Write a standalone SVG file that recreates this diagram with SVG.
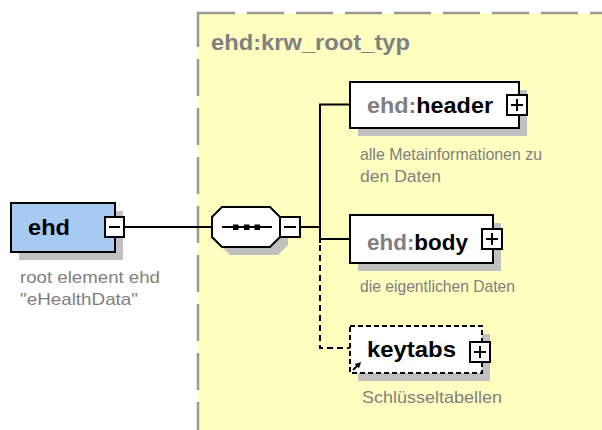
<svg xmlns="http://www.w3.org/2000/svg" width="602" height="430" viewBox="0 0 602 430">
<defs>
<style>
.t{font-family:"Liberation Sans",Arial,sans-serif;}
.b{font-weight:bold;font-size:22px;}
.d{font-size:17px;fill:#808080;}
.g{fill:#808080;}
.k{fill:#000;}
.box{fill:#fff;stroke:#000;stroke-width:2;}
.sh{fill:#c0c0c0;}
.ln{stroke:#000;stroke-width:2;fill:none;}
.dl{stroke:#000;stroke-width:2;fill:none;stroke-dasharray:6,4;}
</style>
<marker id="ah" viewBox="0 0 6 6" refX="3" refY="3" markerWidth="6" markerHeight="6" orient="auto" markerUnits="userSpaceOnUse">
<path d="M0,0 L6,3 L0,6 z" fill="#000"/>
</marker>
</defs>
<rect width="602" height="430" fill="#fff"/>
<g id="type">
<rect x="198" y="13" width="420" height="430" fill="#ffffc0" stroke="#999" stroke-width="2.5" stroke-dasharray="37,12"/>
<text class="t b g" x="211" y="50" textLength="199" lengthAdjust="spacingAndGlyphs">ehd:krw_root_typ</text>
</g>
<g id="connectors">
<line class="ln" x1="124" y1="227" x2="212" y2="227"/>
<line class="ln" x1="300" y1="227" x2="320" y2="227"/>
<polyline class="ln" points="350,104.5 320,104.5 320,243"/>
<line class="ln" x1="320" y1="239" x2="350" y2="239"/>
<polyline class="dl" points="320,245 320,348 350,348"/>
</g>
<g id="ehd">
<rect class="sh" x="19" y="211" width="104" height="49"/>
<rect x="11" y="203" width="104" height="49" fill="#a6caf0" stroke="#000" stroke-width="2"/>
<text class="t b k" x="28" y="235" textLength="42" lengthAdjust="spacingAndGlyphs">ehd</text>
<rect class="box" x="105" y="217" width="19" height="20"/>
<line class="ln" x1="109" y1="227" x2="120" y2="227"/>
<text class="t d" x="20" y="283" textLength="140" lengthAdjust="spacingAndGlyphs">root element ehd</text>
<text class="t d" x="20" y="305" textLength="118" lengthAdjust="spacingAndGlyphs">"eHealthData"</text>
</g>
<g id="sequence">
<polygon class="sh" points="230,215 278,215 288,225 288,245 278,255 230,255 220,245 220,225"/>
<polygon class="box" points="222,207 270,207 280,217 280,237 270,247 222,247 212,237 212,217"/>
<line class="ln" x1="222" y1="227" x2="272" y2="227"/>
<rect x="233" y="224.5" width="5.5" height="5.5" fill="#000"/>
<rect x="244" y="224.5" width="5.5" height="5.5" fill="#000"/>
<rect x="254.5" y="224.5" width="5.5" height="5.5" fill="#000"/>
<rect class="box" x="280" y="217" width="20" height="20"/>
<line class="ln" x1="284" y1="227" x2="296" y2="227"/>
</g>
<g id="header">
<rect class="sh" x="358" y="90" width="169" height="46"/>
<rect class="box" x="350" y="82" width="169" height="46"/>
<text class="t b" x="367" y="113" textLength="126" lengthAdjust="spacingAndGlyphs"><tspan class="g">ehd:</tspan><tspan class="k">header</tspan></text>
<rect class="box" x="507" y="95" width="20" height="20"/>
<path class="ln" d="M511,105 H523 M517,99 V111"/>
<text class="t d" x="360" y="160" textLength="182" lengthAdjust="spacingAndGlyphs">alle Metainformationen zu</text>
<text class="t d" x="360" y="182" textLength="81" lengthAdjust="spacingAndGlyphs">den Daten</text>
</g>
<g id="body">
<rect class="sh" x="358" y="223" width="143" height="48"/>
<rect class="box" x="350" y="215" width="143" height="48"/>
<text class="t b" x="367" y="250" textLength="101" lengthAdjust="spacingAndGlyphs"><tspan class="g">ehd:</tspan><tspan class="k">body</tspan></text>
<rect class="box" x="482" y="229" width="20" height="20"/>
<path class="ln" d="M486,239 H498 M492,233 V245"/>
<text class="t d" x="360" y="292" textLength="155" lengthAdjust="spacingAndGlyphs">die eigentlichen Daten</text>
</g>
<g id="keytabs">
<rect class="sh" x="358" y="334" width="132" height="47"/>
<rect x="350" y="326" width="132" height="47" fill="#fff" stroke="#000" stroke-width="2" stroke-dasharray="5,3"/>
<text class="t b k" x="367" y="357" textLength="89" lengthAdjust="spacingAndGlyphs">keytabs</text>
<rect class="box" x="470" y="342" width="20" height="20"/>
<path class="ln" d="M474,352 H486 M480,346 V358"/>
<line x1="353" y1="370" x2="359" y2="364" stroke="#000" stroke-width="2" marker-end="url(#ah)"/>
<text class="t d" x="362" y="403" textLength="140" lengthAdjust="spacingAndGlyphs">Schlüsseltabellen</text>
</g>
</svg>
